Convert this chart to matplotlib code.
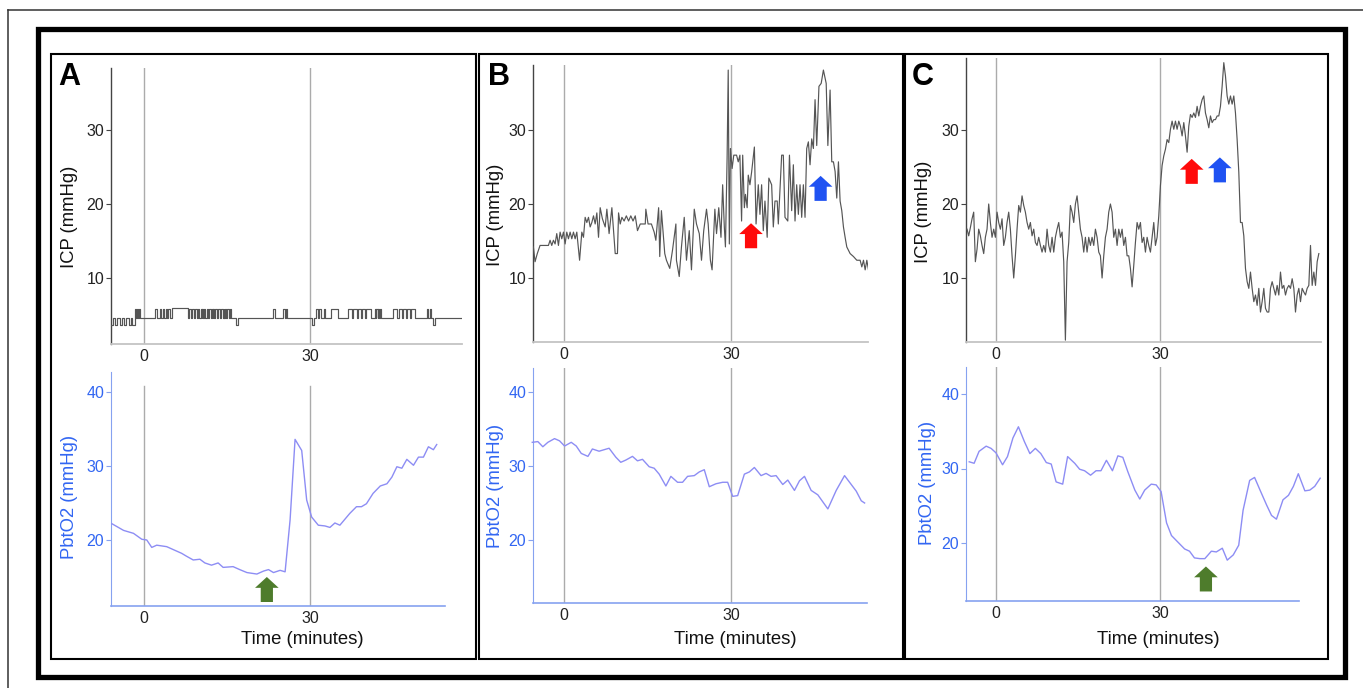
import numpy as np
import matplotlib

matplotlib.use("Agg")
import matplotlib.pyplot as plt
from matplotlib.patches import Rectangle
from matplotlib.lines import Line2D

plt.rcParams["font.family"] = ["Liberation Sans", "DejaVu Sans"]

W, H = 1363, 688

# ---------------- data (minutes, mmHg) ----------------
markers = [0, 30]
panel_letters = ["A", "B", "C"]

# panel A ICP: step levels, value holds until next time
icp_a_t = [-5.9, -5.6, -5.2, -4.8, -4.4, -4.0, -3.6, -3.2, -2.8, -2.4,
           -2.1, -1.6, -1.4, -1.2, -1.0, -0.9, -0.7,
           2.0, 2.3, 2.9, 3.1, 3.4, 3.7, 3.9, 4.2, 4.4, 4.7, 5.0,
           8.0, 8.2, 8.5, 8.7, 9.0, 9.2, 9.5, 9.7, 10.0, 10.3,
           10.4, 10.5, 10.6, 10.8, 11.1, 11.3, 11.6, 11.8, 12.1, 12.3,
           12.4, 12.5, 12.7, 12.9, 13.2, 13.4, 13.7, 13.9, 14.2, 14.4,
           14.5, 14.6, 14.8, 15.0, 15.3, 15.5, 15.8, 16.7, 16.9,
           23.3, 23.6, 25.2, 25.4, 25.7, 25.9, 30.3, 30.8,
           31.1, 31.4, 31.7, 32.0, 32.6, 32.8, 33.8, 35.0,
           36.9, 37.6, 37.8, 38.5, 38.7, 39.2, 39.4, 39.9, 40.1, 41.0,
           41.7, 41.9, 42.0, 42.2, 42.3, 42.5, 42.6, 42.8,
           45.0, 45.8, 46.0, 46.6, 46.8, 47.4, 47.6, 48.1, 48.3, 48.9,
           51.2, 51.4, 51.6, 51.8, 52.3, 52.5, 57.3]
icp_a_v = [3.7, 4.6, 3.7, 4.6, 3.7, 4.6, 3.7, 4.6, 3.7, 4.6,
           3.7, 5.8, 4.6, 5.8, 4.6, 5.8, 4.6,
           5.8, 4.6, 5.8, 4.6, 5.8, 4.6, 5.8, 4.6, 5.8, 4.6, 5.9,
           4.6, 5.8, 4.6, 5.8, 4.6, 5.8, 4.6, 5.8, 4.6, 5.8,
           4.6, 5.8, 4.6, 5.8, 4.6, 5.8, 4.6, 5.8, 4.6, 5.8,
           4.6, 5.8, 4.6, 5.8, 4.6, 5.8, 4.6, 5.8, 4.6, 5.8,
           4.6, 5.8, 4.6, 5.8, 4.6, 5.8, 4.6, 3.7, 4.6,
           5.8, 4.6, 5.8, 4.6, 5.8, 4.6, 3.7, 4.6,
           5.8, 4.6, 5.8, 4.6, 5.8, 4.6, 5.8, 4.6,
           5.8, 4.6, 5.8, 4.6, 5.8, 4.6, 5.8, 4.6, 5.8, 4.6,
           5.8, 4.6, 5.8, 4.6, 5.8, 4.6, 5.8, 4.6,
           5.8, 4.6, 5.8, 4.6, 5.8, 4.6, 5.8, 4.6, 5.8, 4.6,
           5.8, 4.6, 5.8, 4.6, 3.7, 4.6, 4.6]

icp_b_t = [-5.5, -5.2, -4.8, -4.3, -2.8, -2.5, -2.2, -1.9, -1.6, -1.3,
           -1.0, -0.7, -0.4, -0.1, 0.2, 0.5, 0.8, 1.1, 1.4, 1.7,
           2.0, 2.3, 2.8, 3.2, 3.5, 3.8, 4.1, 4.4, 4.7, 5.0,
           5.3, 5.6, 5.9, 6.2, 6.5, 6.9, 7.4, 7.7, 8.1, 8.6,
           9.2, 9.6, 9.8, 10.1, 10.4, 10.8, 11.2, 11.6, 12.0, 12.4,
           12.8, 13.2, 13.7, 14.2, 14.6, 14.7, 15.1, 15.7, 16.2, 16.5,
           17.0, 17.2, 17.5, 18.1, 18.4, 19.0, 19.5, 20.1, 20.2, 20.7,
           21.1, 21.6, 22.0, 22.5, 22.9, 23.4, 23.8, 24.3, 24.7, 25.1,
           25.6, 25.9, 26.3, 26.6, 27.1, 27.4, 27.8, 28.2, 28.5, 28.8,
           29.0, 29.3, 29.5, 29.7, 29.9, 30.2, 30.5, 31.0, 31.3, 31.6,
           31.9, 32.1, 32.4, 32.6, 32.9, 33.1, 33.4, 33.7, 34.2, 34.5,
           34.9, 35.2, 35.5, 35.8, 36.1, 36.5, 36.8, 37.3, 37.6, 37.9,
           38.3, 38.5, 39.1, 39.4, 39.7, 40.2, 40.5, 40.9, 41.2, 41.5,
           41.8, 42.1, 42.4, 42.7, 43.0, 43.3, 43.6, 43.9, 44.2, 44.5,
           44.8, 45.1, 45.4, 45.8, 46.2, 46.6, 47.1, 47.4, 47.8, 48.1,
           48.4, 48.7, 49.0, 49.3, 49.6, 49.9, 50.2, 50.5, 50.8, 51.4,
           52.0, 52.6, 53.2, 53.5, 53.8, 54.1, 54.4, 54.7]
icp_b_v = [14.2, 12.2, 13.3, 14.4, 14.4, 15.1, 14.4, 15.1, 14.6, 16.0,
           14.4, 16.2, 15.3, 16.2, 14.6, 16.2, 15.3, 16.2, 15.3, 16.2,
           15.3, 16.2, 12.4, 16.2, 15.5, 18.2, 17.5, 18.2, 16.9, 17.5,
           18.4, 17.3, 18.8, 15.5, 19.5, 18.0, 16.9, 19.3, 16.0, 19.5,
           13.3, 13.3, 18.8, 17.3, 18.2, 17.7, 18.4, 17.7, 18.4, 17.7,
           18.4, 16.4, 17.3, 17.3, 17.3, 19.3, 17.3, 17.3, 16.2, 15.1,
           19.5, 12.9, 19.1, 13.3, 12.4, 11.3, 13.8, 17.3, 12.4, 10.2,
           14.2, 18.2, 12.4, 16.4, 11.1, 19.3, 17.3, 16.0, 12.4, 16.4,
           19.3, 17.3, 12.4, 11.1, 19.3, 16.0, 19.5, 15.5, 22.6, 16.9,
           14.2, 26.2, 38.1, 14.6, 27.5, 24.8, 26.6, 26.6, 25.7, 26.6,
           17.7, 26.6, 19.5, 21.3, 19.5, 23.9, 22.6, 24.3, 27.7, 17.3,
           22.6, 18.6, 22.6, 16.4, 20.4, 15.5, 23.5, 22.6, 16.9, 20.4,
           20.4, 17.3, 26.6, 26.6, 18.2, 17.7, 26.6, 19.1, 25.3, 17.7,
           22.6, 18.6, 22.6, 18.2, 22.6, 18.2, 27.5, 28.4, 25.3, 28.8,
           27.5, 34.1, 27.9, 35.9, 36.3, 38.1, 36.3, 27.9, 35.4, 25.7,
           25.7, 24.4, 20.8, 25.7, 20.4, 19.1, 16.9, 15.5, 14.2, 13.3,
           12.9, 12.4, 12.4, 11.5, 12.4, 11.1, 12.4, 11.1]

# panel C ICP: evenly sampled from t0 every dt minutes
icp_c_t0, icp_c_dt = -5.3, 0.305
icp_c_v = [16.6, 15.7, 16.8, 18.0, 18.9, 12.2, 13.9, 16.6, 15.7, 14.4,
           13.3, 15.5, 16.6, 20.0, 17.5, 15.5, 16.6, 15.5, 18.9, 17.5,
           16.6, 18.0, 14.4, 15.5, 17.5, 18.9, 16.6, 13.0, 10.0, 13.0,
           16.6, 19.8, 18.9, 21.1, 19.8, 18.9, 17.5, 16.6, 17.5, 15.7,
           16.6, 14.8, 14.4, 15.5, 14.4, 13.5, 14.4, 13.5, 16.6, 14.4,
           13.5, 15.5, 13.5, 15.5, 16.6, 17.5, 15.5, 16.2, 12.2, 1.6,
           12.2, 14.8, 19.8, 18.9, 17.5, 20.0, 21.1, 18.9, 16.6, 15.5,
           13.5, 15.5, 13.5, 15.5, 14.4, 15.5, 14.4, 16.6, 15.5, 13.5,
           13.0, 10.0, 13.0, 15.5, 16.6, 18.9, 20.0, 18.9, 15.5, 16.6,
           14.4, 16.6, 15.5, 16.6, 14.4, 15.5, 13.0, 13.0, 11.3, 8.8,
           11.7, 14.8, 17.5, 16.6, 17.5,
           14.8, 15.5, 13.5, 15.5, 14.4, 13.5, 15.5, 17.5, 14.4, 15.5,
           18.4, 22.5, 25.2, 26.5, 27.4, 28.7, 28.3, 30.1, 31.2, 30.1,
           31.2, 30.1, 31.2, 30.5, 29.2, 31.0, 29.2, 27.0, 30.5, 32.1,
           31.7, 32.3, 31.7, 33.2, 31.9, 33.2, 34.1, 34.6, 32.3, 31.4,
           30.3, 31.9, 31.0, 31.4, 31.4, 31.9, 31.9, 33.2, 35.9, 39.1,
           37.3, 34.6, 33.5, 34.6, 33.5, 34.6, 32.3, 28.7, 24.3, 17.5,
           17.5, 15.7, 11.3, 9.5, 8.6, 10.8, 8.6, 6.8, 7.7, 6.3,
           8.6, 5.4, 6.8, 8.6, 5.9, 5.4, 5.4, 8.6, 9.5, 8.6,
           7.7, 9.0, 7.7, 10.8, 8.6, 9.0, 7.7, 8.6, 9.0, 8.6,
           9.9, 8.6, 5.4, 7.7, 8.6, 6.8, 8.6, 8.1, 7.7, 8.6,
           9.0, 14.4, 9.0, 10.8, 9.0, 12.2, 13.3]

pbt_a_t = [-5.8, -3.7, -1.9, -0.4, 0.5, 1.4, 2.3, 4.1, 5.3, 6.8,
           7.7, 8.9, 10.1, 11.0, 12.2, 13.4, 14.3, 16.1, 17.3, 18.6,
           20.4, 21.6, 22.5, 23.4, 24.6, 25.5, 26.4, 27.3, 28.5, 29.4,
           30.3, 31.5, 32.7, 33.6, 34.5, 35.4, 37.2, 38.4, 39.3, 40.2,
           41.4, 42.7, 43.9, 44.8, 45.7, 46.6, 47.5, 48.7, 49.6, 50.5,
           51.4, 52.3, 52.9]
pbt_a_v = [22.2, 21.3, 20.9, 20.1, 20.0, 19.0, 19.3, 19.1, 18.7, 18.2,
           17.8, 17.3, 17.4, 16.9, 16.6, 16.9, 16.3, 16.4, 16.0, 15.6,
           15.4, 15.8, 16.0, 15.6, 15.9, 15.7, 22.7, 33.6, 32.1, 25.4,
           23.1, 22.0, 21.9, 21.7, 22.3, 22.0, 23.6, 24.5, 24.5, 24.9,
           26.3, 27.3, 27.6, 28.5, 29.9, 29.7, 30.9, 30.1, 31.2, 31.2,
           32.6, 32.2, 32.9]

pbt_b_t = [-5.7, -4.7, -3.8, -2.9, -1.7, -0.8, 0.1, 1.3, 2.2, 3.1,
           4.3, 5.1, 6.3, 8.1, 9.3, 10.2, 11.1, 12.3, 13.2, 14.1,
           15.3, 16.2, 17.1, 18.3, 19.2, 20.4, 21.3, 22.2, 23.4, 24.3,
           25.2, 26.1, 27.3, 28.5, 29.4, 30.3, 31.2, 32.4, 33.3, 34.2,
           35.4, 36.3, 37.2, 38.1, 39.3, 40.2, 41.4, 42.3, 43.2, 44.4,
           45.6, 47.4, 48.9, 50.4, 51.3, 52.5, 53.4, 54.0]
pbt_b_v = [33.2, 33.3, 32.6, 33.2, 33.7, 33.4, 32.7, 33.2, 32.7, 31.7,
           31.3, 32.3, 32.0, 32.4, 31.2, 30.5, 30.8, 31.3, 30.7, 30.9,
           29.9, 29.7, 28.9, 27.3, 28.6, 27.8, 27.8, 28.6, 28.7, 29.2,
           29.5, 27.2, 27.6, 27.8, 27.8, 25.9, 26.0, 28.9, 29.2, 29.8,
           28.7, 29.0, 28.6, 28.7, 27.5, 28.1, 26.7, 28.0, 28.6, 26.7,
           26.1, 24.2, 26.7, 28.7, 27.8, 26.6, 25.3, 25.0]

pbt_c_t = [-4.9, -4.0, -3.1, -1.8, -0.9, 0.0, 1.2, 2.1, 3.1, 4.1,
           5.2, 6.2, 7.2, 8.2, 9.2, 10.1, 11.0, 12.2, 13.1, 14.4,
           15.3, 16.2, 17.3, 18.3, 19.2, 20.2, 21.3, 22.3, 23.2, 24.1,
           25.4, 26.3, 27.2, 28.4, 29.3, 30.2, 31.2, 32.1, 33.3, 34.5,
           35.4, 36.3, 37.3, 38.2, 39.4, 40.3, 41.4, 42.3, 43.4, 44.4,
           45.2, 46.4, 47.3, 48.3, 49.5, 50.4, 51.3, 52.5, 53.5, 54.4,
           55.3, 56.5, 57.4, 58.3, 59.3]
pbt_c_v = [30.9, 30.7, 32.3, 33.0, 32.7, 32.1, 30.5, 31.6, 34.1, 35.6,
           33.6, 32.0, 32.7, 32.0, 30.8, 30.6, 28.2, 27.9, 31.6, 30.7,
           29.9, 29.7, 29.1, 29.7, 29.7, 31.1, 29.7, 31.7, 31.5, 29.6,
           27.1, 25.9, 27.1, 27.9, 27.8, 26.9, 22.7, 21.0, 20.1, 19.2,
           18.9, 18.0, 17.9, 17.9, 18.9, 18.8, 19.3, 17.7, 18.4, 19.7,
           24.4, 28.4, 28.8, 27.1, 25.1, 23.7, 23.2, 25.8, 26.4, 27.6,
           29.3, 27.0, 27.1, 27.6, 28.7]

# arrows: (time, value at tip, colour)
arrows_icp = [[], [(33.6, 17.4, "#ff0a0a"), (46.1, 23.8, "#1f52f2")],
              [(35.8, 26.1, "#ff0a0a"), (40.95, 26.3, "#1f52f2")]]
arrows_pbt = [[(22.2, 15.0, "#4e7c2c")], [], [(38.4, 16.85, "#4e7c2c")]]

# ---------------- layout (pixels) ----------------
top_px = [(111, 68, 462, 344), (533, 65, 868, 342), (966, 58, 1321, 342)]
bot_px = [(111, 372, 462, 606), (533, 368, 868, 603), (966, 367, 1321, 601)]
x_ref_px = [(144, 310), (564, 731), (996, 1160)]  # pixel of t=0 and t=30
bot_y_ref = [(540, 392), (540, 392), (543, 394)]  # pixel of 20 and 40
bot_axis_end = [445, 867, 1299]
bot_vline_top = [0.94, 1.0, 1.0]
letter_px = [(58, 85), (488, 85), (912, 85)]
icp_label_px = [(70, 217), (495, 215), (923, 212)]
pbt_label_px = [(70, 497), (495, 486), (927, 483)]
time_label_px = [(302, 640), (735, 640), (1158, 639)]

GREY_TRACE = "#555555"
MARK_GREY = "#ababab"
BLUE_TXT = "#3266f2"
BLUE_AX = "#86a2f0"
PBT_LINE = "#8d8df4"
TICK_FS = 11.5
LABEL_FS = 13.3


def fig_box(l, t, r, b):
    return [l / W, 1 - b / H, (r - l) / W, (b - t) / H]


def lims(p_lo, p_hi, v1, p1, v2, p2):
    k = (v2 - v1) / (p2 - p1)
    return v1 + (p_lo - p1) * k, v1 + (p_hi - p1) * k


def fx(px):
    return px / W


def fy(px):
    return 1 - px / H


def block_arrow(ax, t, tip, color):
    ax.annotate("", xy=(t, tip), xytext=(0, -25), textcoords="offset pixels",
                arrowprops=dict(arrowstyle="simple,head_length=0.78,head_width=1.7,tail_width=0.88",
                                mutation_scale=10, fc=color, ec=color, lw=0,
                                shrinkA=0, shrinkB=0))


fig = plt.figure(figsize=(W / 100, H / 100), dpi=100)

# frames
fig.add_artist(Line2D([fx(8), 1.0], [fy(10), fy(10)], transform=fig.transFigure, color="#333333", lw=1.1))
fig.add_artist(Line2D([fx(8), fx(8)], [fy(10), 0.0], transform=fig.transFigure, color="#333333", lw=1.1))
fig.add_artist(Rectangle((fx(38), fy(677)), fx(1345 - 38), (677 - 29) / H, transform=fig.transFigure,
                         fill=False, ec="black", lw=3.8))
for l, r in [(51, 476), (479, 903), (905, 1328)]:
    fig.add_artist(Rectangle((fx(l), fy(659)), fx(r - l), (659 - 54) / H, transform=fig.transFigure,
                             fill=False, ec="black", lw=1.5))

icp_series = [
    (icp_a_t, icp_a_v, "steps-post"),
    (icp_b_t, icp_b_v, "default"),
    (list(icp_c_t0 + icp_c_dt * np.arange(len(icp_c_v))), icp_c_v, "default"),
]
pbt_series = [(pbt_a_t, pbt_a_v), (pbt_b_t, pbt_b_v), (pbt_c_t, pbt_c_v)]

for i in range(3):
    x0, x30 = x_ref_px[i]
    # ICP panel
    l, t, r, b = top_px[i]
    ax = fig.add_axes(fig_box(l, t, r, b))
    ax.set_xlim(*lims(l, r, 0, x0, 30, x30))
    ax.set_ylim(*lims(b, t, 10, 278, 30, 130))
    for m in markers:
        ax.axvline(m, color=MARK_GREY, lw=1.0, zorder=1)
    tt, vv, ds = icp_series[i]
    ax.plot(tt, vv, color=GREY_TRACE, lw=0.85, drawstyle=ds, zorder=3)
    for at, av, ac in arrows_icp[i]:
        block_arrow(ax, at, av, ac)
    ax.set_xticks(markers)
    ax.set_yticks([10, 20, 30])
    ax.tick_params(axis="x", length=0, pad=3.5, labelsize=TICK_FS, labelcolor="#222222")
    ax.tick_params(axis="y", length=3.5, width=0.8, pad=1.5, labelsize=TICK_FS,
                   color="#444444", labelcolor="#222222")
    for s in ["top", "right"]:
        ax.spines[s].set_visible(False)
    ax.spines["left"].set_color("#444444")
    ax.spines["left"].set_linewidth(1.0)
    ax.spines["bottom"].set_color("#c4c4c4")
    ax.spines["bottom"].set_linewidth(1.3)
    ax.patch.set_alpha(0)

    # PbtO2 panel
    l, t, r, b = bot_px[i]
    ax2 = fig.add_axes(fig_box(l, t, r, b))
    ax2.set_xlim(*lims(l, r, 0, x0, 30, x30))
    y20, y40 = bot_y_ref[i]
    ax2.set_ylim(*lims(b, t, 20, y20, 40, y40))
    for m in markers:
        ax2.axvline(m, color=MARK_GREY, lw=1.0, ymax=bot_vline_top[i], zorder=1)
    ax2.plot(*pbt_series[i], color=PBT_LINE, lw=1.0, zorder=3, clip_on=False)
    for at, av, ac in arrows_pbt[i]:
        block_arrow(ax2, at, av, ac)
    ax2.set_xticks(markers)
    ax2.set_yticks([20, 30, 40])
    ax2.tick_params(axis="x", length=0, pad=3.5, labelsize=TICK_FS, labelcolor="#222222")
    ax2.tick_params(axis="y", length=3.5, width=0.8, pad=1.5, labelsize=TICK_FS,
                    color=BLUE_AX, labelcolor=BLUE_TXT)
    for s in ["top", "right"]:
        ax2.spines[s].set_visible(False)
    ax2.spines["left"].set_color(BLUE_AX)
    ax2.spines["bottom"].set_color(BLUE_AX)
    ax2.spines["bottom"].set_linewidth(1.2)
    ax2.spines["bottom"].set_bounds(ax2.get_xlim()[0], lims(l, bot_axis_end[i], 0, x0, 30, x30)[1])
    ax2.patch.set_alpha(0)

    # labels
    lx, ly = letter_px[i]
    fig.text(fx(lx), fy(ly), panel_letters[i], fontsize=22, fontweight="bold", va="baseline", ha="left")
    lx, ly = icp_label_px[i]
    fig.text(fx(lx), fy(ly), "ICP (mmHg)", fontsize=LABEL_FS, rotation=90, va="center", ha="center",
             color="#111111")
    lx, ly = pbt_label_px[i]
    fig.text(fx(lx), fy(ly), "PbtO2 (mmHg)", fontsize=LABEL_FS, rotation=90, va="center", ha="center",
             color=BLUE_TXT)
    lx, ly = time_label_px[i]
    fig.text(fx(lx), fy(ly), "Time (minutes)", fontsize=LABEL_FS, va="center", ha="center", color="#111111")

fig.savefig("out.png", dpi=100)
